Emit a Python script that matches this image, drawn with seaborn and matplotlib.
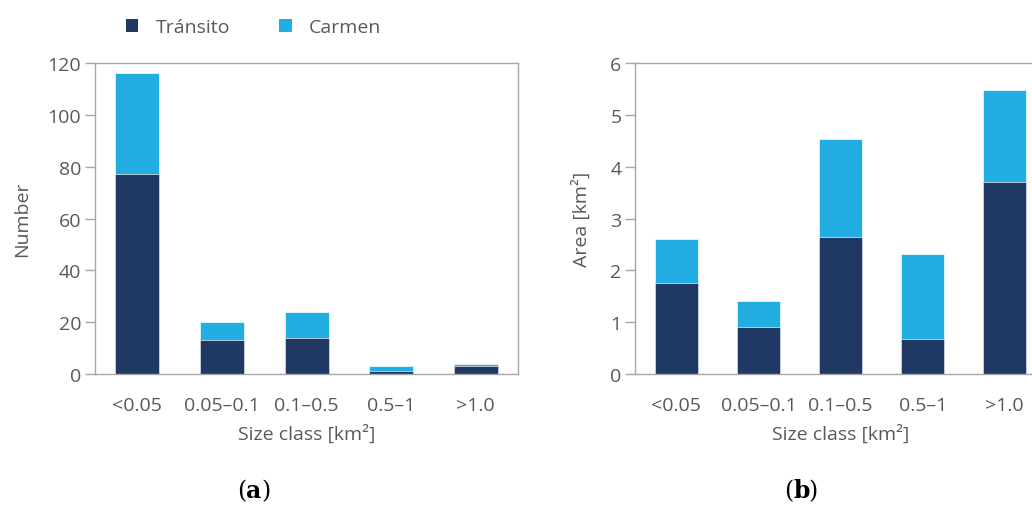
import matplotlib
matplotlib.use("Agg")
import matplotlib.pyplot as plt
from matplotlib.patches import Patch
import seaborn as sns
import pandas as pd

# Size classes and per-glacier values
size_classes = ["<0.05", "0.05–0.1", "0.1–0.5", "0.5–1", ">1.0"]
transito_number = [77, 13, 14, 1, 3]
carmen_number = [39, 7, 10, 2, 1]
transito_area = [1.76, 0.91, 2.64, 0.68, 3.70]
carmen_area = [0.84, 0.50, 1.90, 1.63, 1.77]

series_names = ["Tránsito", "Carmen"]
colors = {"Tránsito": "#1f3864", "Carmen": "#22aee3"}

sns.set_theme(style="white")
plt.rcParams["font.family"] = ["Open Sans", "DejaVu Sans"]

text_color = "#595959"
spine_color = "#a6a6a6"

fig = plt.figure(figsize=(10.32, 5.06), dpi=100)
ax_a = fig.add_axes([0.0921, 0.2589, 0.4099, 0.6146])
ax_b = fig.add_axes([0.6156, 0.2589, 0.3978, 0.6146])


def stacked(ax, lower, upper, ylim, yticks, ylabel, ylabelpad):
    df = pd.DataFrame({
        "size": size_classes,
        "Tránsito": lower,
        "total": [a + b for a, b in zip(lower, upper)],
    })
    sns.barplot(data=df, x="size", y="total", color=colors["Carmen"],
                width=0.52, edgecolor="#e8f6fc", linewidth=0.6,
                saturation=1, ax=ax, order=size_classes)
    sns.barplot(data=df, x="size", y="Tránsito", color=colors["Tránsito"],
                width=0.52, edgecolor="#d0d6e2", linewidth=0.6,
                saturation=1, ax=ax, order=size_classes)
    ax.set_xlim(-0.5, 4.5)
    ax.set_ylim(*ylim)
    ax.set_yticks(yticks)
    ax.set_ylabel(ylabel, fontsize=14, color=text_color, labelpad=ylabelpad)
    ax.set_xlabel("Size class [km²]", fontsize=14, color=text_color, labelpad=7)
    ax.tick_params(axis="y", which="major", left=True, length=7, width=1,
                   color=spine_color, labelsize=14, labelcolor=text_color, pad=3)
    ax.tick_params(axis="x", bottom=False, labelsize=14, labelcolor=text_color, pad=10)
    for s in ax.spines.values():
        s.set_color(spine_color)
        s.set_linewidth(1)
        s.set_visible(True)


stacked(ax_a, transito_number, carmen_number, (0, 120), range(0, 121, 20), "Number", 12)
stacked(ax_b, transito_area, carmen_area, (0, 6), range(0, 7), "Area [km²]", 14)

# Legend across the top
handles = [Patch(facecolor=colors[n], edgecolor="none") for n in series_names]
fig.legend(handles, series_names, loc="center left", bbox_to_anchor=(0.105, 0.944),
           ncol=2, frameon=False, fontsize=14, labelcolor=text_color,
           handlelength=0.65, handleheight=0.65, handletextpad=0.9, columnspacing=2.5)

# Panel captions
for x, letter in [(0.2385, "a"), (0.769, "b")]:
    fig.text(x, 0.015, "(", ha="right", va="baseline", fontsize=17,
             family="DejaVu Serif", color="black")
    fig.text(x, 0.015, letter, ha="left", va="baseline", fontsize=17,
             family="DejaVu Serif", weight="bold", color="black")
    fig.text(x + 0.0145, 0.015, ")", ha="left", va="baseline", fontsize=17,
             family="DejaVu Serif", color="black")

fig.savefig("out.png", dpi=100)
